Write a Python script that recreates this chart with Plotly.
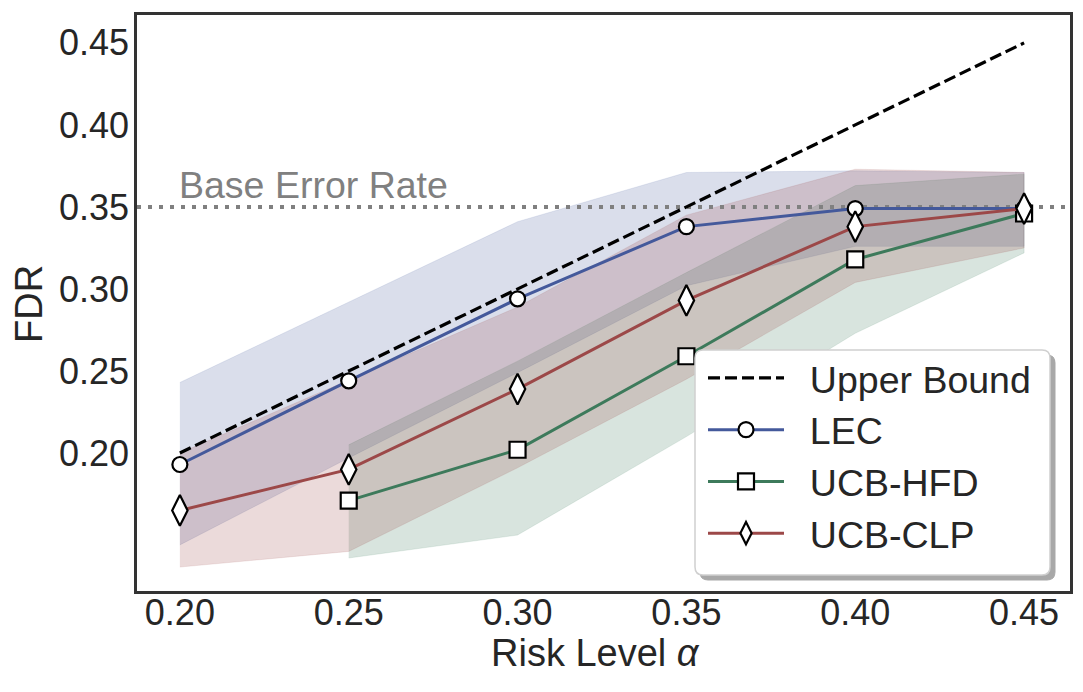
import plotly.graph_objects as go

# ---------------- data ----------------
ALPHAS = [0.20, 0.25, 0.30, 0.35, 0.40, 0.45]
UPPER_BOUND = [0.20, 0.25, 0.30, 0.35, 0.40, 0.45]
BASE_ERROR_RATE = 0.35

LEC_X = [0.20, 0.25, 0.30, 0.35, 0.40, 0.45]
LEC = [0.193, 0.244, 0.294, 0.338, 0.349, 0.349]
LEC_LO = [0.144, 0.197, 0.249, 0.302, 0.326, 0.326]
LEC_HI = [0.243, 0.292, 0.341, 0.371, 0.372, 0.371]

HFD_X = [0.25, 0.30, 0.35, 0.40, 0.45]
HFD = [0.171, 0.202, 0.259, 0.318, 0.346]
HFD_LO = [0.136, 0.150, 0.210, 0.273, 0.322]
HFD_HI = [0.205, 0.256, 0.310, 0.363, 0.370]

CLP_X = [0.20, 0.25, 0.30, 0.35, 0.40, 0.45]
CLP = [0.165, 0.190, 0.239, 0.293, 0.338, 0.349]
CLP_LO = [0.1305, 0.140, 0.191, 0.245, 0.304, 0.325]
CLP_HI = [0.200, 0.2445, 0.289, 0.345, 0.373, 0.371]

X_TICKS = [0.20, 0.25, 0.30, 0.35, 0.40, 0.45]
Y_TICKS = [0.20, 0.25, 0.30, 0.35, 0.40, 0.45]

# ---------------- style ----------------
X_RANGE = [0.1873, 0.4636]
Y_RANGE = [0.1159, 0.467]
W, H = 1083, 692
OFF = 8  # page body margin offset seen in the screenshot
# desired plot area on screen: x 137..1070, y 15..591
ML, MT = 137 - OFF, 15 - OFF
MR, MB = W - (1070 - OFF), H - (591 - OFF)
FONT = "Liberation Sans, Arial, sans-serif"
FS = 37.5
TFS = 36
TXT = "#262626"
NB = "\u00a0"

SERIES = [
    ("LEC", LEC_X, LEC, LEC_LO, LEC_HI, (68, 89, 155), "circle", 15),
    ("UCB-HFD", HFD_X, HFD, HFD_LO, HFD_HI, (61, 122, 91), "square", 16),
    ("UCB-CLP", CLP_X, CLP, CLP_LO, CLP_HI, (156, 72, 72), "diamond-tall", 22),
]

fig = go.Figure()

# bands
for name, xs, ys, lo, hi, rgb, sym, msz in SERIES:
    r, g, b = rgb
    fig.add_trace(go.Scatter(
        x=list(xs) + list(xs)[::-1],
        y=list(hi) + list(lo)[::-1],
        fill="toself",
        fillcolor=f"rgba({r},{g},{b},0.2)",
        line=dict(width=1, color=f"rgba({r},{g},{b},0.12)"),
        mode="lines",
        hoverinfo="skip",
        showlegend=False,
    ))

# base error rate line (horizontal across the whole axis range)
fig.add_trace(go.Scatter(
    x=X_RANGE, y=[BASE_ERROR_RATE, BASE_ERROR_RATE], mode="lines",
    line=dict(color="#808080", width=4, dash="4px,7px"),
    hoverinfo="skip", showlegend=False,
))

# upper bound
fig.add_trace(go.Scatter(
    x=ALPHAS, y=UPPER_BOUND, mode="lines", name=NB * 2 + "Upper Bound",
    line=dict(color="black", width=3.2, dash="12px,5px"),
))

# series lines
for name, xs, ys, lo, hi, rgb, sym, msz in SERIES:
    r, g, b = rgb
    fig.add_trace(go.Scatter(
        x=xs, y=ys, mode="lines+markers", name=NB * 2 + name,
        line=dict(color=f"rgb({r},{g},{b})", width=3),
        marker=dict(symbol=sym, size=msz, color="white",
                    line=dict(color="black", width=2.2)),
    ))

fig.add_annotation(x=ALPHAS[0], y=BASE_ERROR_RATE, xref="x", yref="y",
                   text="Base Error Rate", showarrow=False,
                   xanchor="left", yanchor="bottom", xshift=-3, yshift=-1,
                   font=dict(family=FONT, size=FS, color="#808080"))

# legend frame (rounded box + shadow) in paper coords
PW, PH = W - ML - MR, H - MT - MB


def px2paper(sx, sy):
    fx, fy = sx - OFF, sy - OFF
    return (fx - ML) / PW, (H - MB - fy) / PH


def rounded_path(x0, y0, x1, y1, rad):
    ax0, ay1 = px2paper(x0, y0)
    ax1, ay0 = px2paper(x1, y1)
    rx = rad / PW
    ry = rad / PH
    return (f"M{ax0+rx},{ay1} L{ax1-rx},{ay1} Q{ax1},{ay1} {ax1},{ay1-ry} "
            f"L{ax1},{ay0+ry} Q{ax1},{ay0} {ax1-rx},{ay0} "
            f"L{ax0+rx},{ay0} Q{ax0},{ay0} {ax0},{ay0+ry} "
            f"L{ax0},{ay1-ry} Q{ax0},{ay1} {ax0+rx},{ay1} Z")


fig.add_shape(type="path", xref="paper", yref="paper",
              path=rounded_path(700, 355, 1055, 580, 8),
              fillcolor="#a8a8a8", line=dict(color="#a8a8a8", width=1),
              layer="above")
fig.add_shape(type="path", xref="paper", yref="paper",
              path=rounded_path(695, 350, 1050, 575, 8),
              fillcolor="white", line=dict(color="#d0d0d0", width=1.5),
              layer="above")

lx, ly = px2paper(703, 347)

# axis titles as annotations (precise placement)
tx, ty = px2paper(595, 653)
fig.add_annotation(x=tx, y=ty, xref="paper", yref="paper",
                   text="Risk Level <i>α</i>", showarrow=False,
                   xanchor="center", yanchor="middle",
                   font=dict(family=FONT, size=38, color=TXT))
fx, fy = px2paper(29, 304)
fig.add_annotation(x=fx, y=fy, xref="paper", yref="paper",
                   text="FDR", showarrow=False, textangle=-90,
                   xanchor="center", yanchor="middle",
                   font=dict(family=FONT, size=38, color=TXT))

fig.update_layout(
    width=W, height=H,
    margin=dict(l=ML, r=MR, t=MT, b=MB, autoexpand=False),
    paper_bgcolor="white", plot_bgcolor="white",
    font=dict(family=FONT, size=FS, color=TXT),
    showlegend=True,
    legend=dict(x=lx, y=ly, xanchor="left", yanchor="top",
                bgcolor="rgba(0,0,0,0)", borderwidth=0,
                font=dict(family=FONT, size=FS, color=TXT),
                itemwidth=76, tracegroupgap=0),
    xaxis=dict(range=X_RANGE, tickvals=X_TICKS,
               ticktext=[f"{v:.2f}" for v in X_TICKS],
               showgrid=False, zeroline=False, ticks="", ticklen=0,
               showline=True, mirror=True, linecolor="#333333", linewidth=2.5,
               ticklabelstandoff=-12, automargin=False,
               tickfont=dict(family=FONT, size=TFS, color=TXT)),
    yaxis=dict(range=Y_RANGE, tickvals=Y_TICKS,
               ticktext=[f"{v:.2f}" for v in Y_TICKS],
               showgrid=False, zeroline=False, ticks="", ticklen=0,
               showline=True, mirror=True, linecolor="#333333", linewidth=2.5,
               ticklabelstandoff=-2, automargin=False,
               tickfont=dict(family=FONT, size=TFS, color=TXT)),
)

fig.write_html("out.html")
